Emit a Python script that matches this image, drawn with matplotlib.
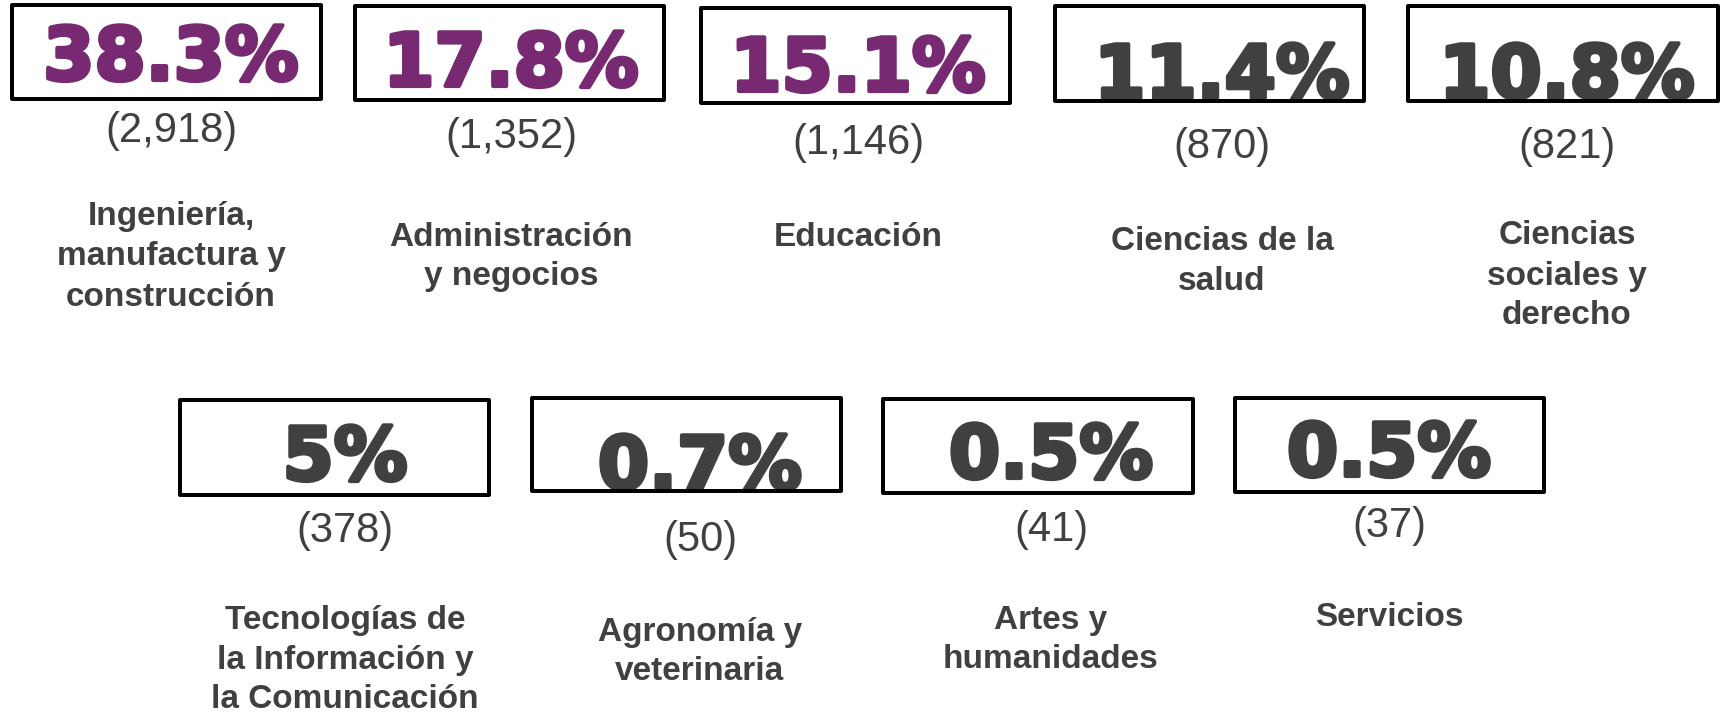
import matplotlib
matplotlib.use('Agg')
import matplotlib.pyplot as plt
import matplotlib.patheffects as pe
from matplotlib.patches import Rectangle

# data
categories = [
    'Ingeniería,\nmanufactura y\nconstrucción',
    'Administración\ny negocios',
    'Educación',
    'Ciencias de la\nsalud',
    'Ciencias\nsociales y\nderecho',
    'Tecnologías de\nla Información y\nla Comunicación',
    'Agronomía y\nveterinaria',
    'Artes y\nhumanidades',
    'Servicios',
]
pct_labels = ['38.3%', '17.8%', '15.1%', '11.4%', '10.8%', '5%', '0.7%', '0.5%', '0.5%']
counts = [2918, 1352, 1146, 870, 821, 378, 50, 41, 37]
highlight = [True, True, True, False, False, False, False, False, False]

PURPLE = '#772A72'
GREY = '#404040'

# layout, in pixels of the 1727x718 canvas (y down)
# box (x0, y0, x1, y1), text x, percent baseline, count centre, label centre
cells = [
    ((10, 3, 323, 101), 171, 82, 131, 257),
    ((353, 4, 666, 102), 511, 88, 137, 257),
    ((699, 6, 1012, 105), 858, 93, 143, 238),
    ((1053, 4, 1366, 103), 1222, 100, 147, 262),
    ((1406, 4, 1720, 103), 1567, 100, 147, 276),
    ((178, 398, 491, 497), 345, 482, 531, 660),
    ((530, 396, 843, 493), 700, 491, 540, 652),
    ((881, 397, 1195, 495), 1051, 480, 530, 640),
    ((1233, 396, 1546, 494), 1389, 478, 526, 618),
]
LINE_STEP = 40
BOX_LW = 4  # px

fig = plt.figure(figsize=(17.27, 7.18), dpi=100)
ax = fig.add_axes([0, 0, 1, 1])
ax.set_xlim(0, 1727)
ax.set_ylim(718, 0)
ax.axis('off')

for i, (box, tx, base, cy, ly) in enumerate(cells):
    x0, y0, x1, y1 = box
    h = BOX_LW / 2
    rect = Rectangle((x0 + h, y0 + h), x1 - x0 - BOX_LW, y1 - y0 - BOX_LW,
                     facecolor='none', edgecolor='black', linewidth=BOX_LW * 0.72,
                     joinstyle='round', zorder=3)
    ax.add_patch(rect)
    clip = Rectangle((x0 + h, y0 + h), x1 - x0 - BOX_LW, y1 - y0 - BOX_LW,
                     transform=ax.transData)

    col = PURPLE if highlight[i] else GREY
    # DejaVu bold + a stroke of the same colour, to get close to Arial Black
    t = ax.text(tx, base - 2, pct_labels[i], ha='center', va='baseline',
                fontsize=53, fontweight='bold', family='DejaVu Sans',
                color=col, zorder=2, clip_on=True,
                path_effects=[pe.withStroke(linewidth=3, foreground=col)])
    t.set_clip_path(clip)

    ax.text(tx, cy, '({:,})'.format(counts[i]), ha='center', va='center',
            fontsize=30, family='Liberation Sans', color=GREY)

    lines = categories[i].split('\n')
    n = len(lines)
    for j, line in enumerate(lines):
        ax.text(tx, ly + (j - (n - 1) / 2) * LINE_STEP, line, ha='center', va='center',
                fontsize=24, fontweight='bold', family='Liberation Sans', color=GREY)

fig.savefig('out.png', dpi=100, facecolor='white')
